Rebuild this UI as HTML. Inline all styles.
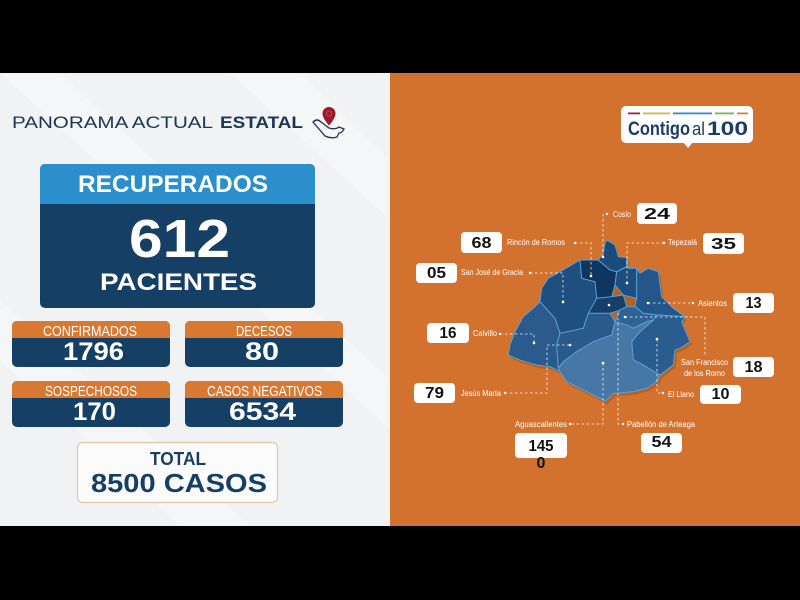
<!DOCTYPE html>
<html><head><meta charset="utf-8"><style>
html,body{margin:0;padding:0;background:#000;}
svg{display:block;}
text{font-family:"Liberation Sans",sans-serif;}
</style></head><body>
<svg width="800" height="600" viewBox="0 0 800 600" xmlns="http://www.w3.org/2000/svg">
<rect x="0" y="0" width="800" height="600" fill="#000"/>
<!-- left panel -->
<rect x="0" y="73" width="390" height="453" fill="#f1f2f4"/>
<polygon points="0,73 60,73 390,380 390,430" fill="#ffffff" opacity="0.3"/>
<polygon points="0,300 0,360 180,526 250,526" fill="#ffffff" opacity="0.3"/>
<polygon points="230,73 300,73 390,160 390,220" fill="#ffffff" opacity="0.3"/>
<!-- right panel -->
<rect x="390" y="73" width="410" height="453" fill="#d3722e"/>

<!-- title -->
<text x="12" y="128" font-size="17" fill="#1b3553" textLength="201" lengthAdjust="spacingAndGlyphs">PANORAMA ACTUAL</text>
<text x="220" y="128" font-size="17" font-weight="bold" fill="#1b3553" textLength="83" lengthAdjust="spacingAndGlyphs">ESTATAL</text>
<!-- icon -->
<path d="M313,122 q4,-4 8,0 l8,6 q6,2 10,-1 l5,2 q-2,4 -5,4 l-2,4 q-6,2 -12,-1 z" fill="none" stroke="#1b3553" stroke-width="1.3"/>
<path d="M329,107 a6.5,6.5 0 0 1 6.5,6.5 c0,5 -6.5,12 -6.5,12 c0,0 -6.5,-7 -6.5,-12 a6.5,6.5 0 0 1 6.5,-6.5z" fill="#9b1b2a"/>
<circle cx="329" cy="113.5" r="2.6" fill="none" stroke="#c9505c" stroke-width="0.8"/>

<!-- recuperados -->
<rect x="40" y="164" width="275" height="144" rx="5" fill="#163f66"/>
<path d="M40,204 V169 a5,5 0 0 1 5,-5 H310 a5,5 0 0 1 5,5 V204 Z" fill="#2a8fcb"/>
<text x="78" y="192" font-size="24" font-weight="bold" fill="#fff" textLength="190" lengthAdjust="spacingAndGlyphs">RECUPERADOS</text>
<text x="129" y="257" font-size="54" font-weight="bold" fill="#fff" textLength="101" lengthAdjust="spacingAndGlyphs">612</text>
<text x="100" y="290" font-size="24" font-weight="bold" fill="#fff" textLength="157" lengthAdjust="spacingAndGlyphs">PACIENTES</text>

<!-- small boxes -->
<g>
<rect x="12" y="321" width="158" height="46" rx="5" fill="#163f66"/>
<path d="M12,338 V326 a5,5 0 0 1 5,-5 H165 a5,5 0 0 1 5,5 V338 Z" fill="#d97830"/>
<text x="43" y="336" font-size="15" fill="#fff" textLength="94" lengthAdjust="spacingAndGlyphs">CONFIRMADOS</text>
<text x="63" y="360" font-size="25" font-weight="bold" fill="#fff" textLength="61" lengthAdjust="spacingAndGlyphs">1796</text>

<rect x="185" y="321" width="158" height="46" rx="5" fill="#163f66"/>
<path d="M185,338 V326 a5,5 0 0 1 5,-5 H338 a5,5 0 0 1 5,5 V338 Z" fill="#d97830"/>
<text x="236" y="336" font-size="15" fill="#fff" textLength="56" lengthAdjust="spacingAndGlyphs">DECESOS</text>
<text x="245" y="360" font-size="25" font-weight="bold" fill="#fff" textLength="34" lengthAdjust="spacingAndGlyphs">80</text>

<rect x="12" y="381" width="158" height="46" rx="5" fill="#163f66"/>
<path d="M12,398 V386 a5,5 0 0 1 5,-5 H165 a5,5 0 0 1 5,5 V398 Z" fill="#d97830"/>
<text x="45" y="396" font-size="15" fill="#fff" textLength="92" lengthAdjust="spacingAndGlyphs">SOSPECHOSOS</text>
<text x="73" y="420" font-size="25" font-weight="bold" fill="#fff" textLength="43" lengthAdjust="spacingAndGlyphs">170</text>

<rect x="185" y="381" width="158" height="46" rx="5" fill="#163f66"/>
<path d="M185,398 V386 a5,5 0 0 1 5,-5 H338 a5,5 0 0 1 5,5 V398 Z" fill="#d97830"/>
<text x="207" y="396" font-size="15" fill="#fff" textLength="115" lengthAdjust="spacingAndGlyphs">CASOS NEGATIVOS</text>
<text x="229" y="420" font-size="25" font-weight="bold" fill="#fff" textLength="67" lengthAdjust="spacingAndGlyphs">6534</text>
</g>

<!-- total -->
<rect x="77.5" y="442.5" width="200" height="60" rx="5" fill="#fbfbfb" stroke="#e6c6a6" stroke-width="1.2"/>
<text x="150" y="465" font-size="18" font-weight="bold" fill="#163f66" textLength="56" lengthAdjust="spacingAndGlyphs">TOTAL</text>
<text x="91" y="492" font-size="26" font-weight="bold" fill="#163f66" textLength="176" lengthAdjust="spacingAndGlyphs">8500 CASOS</text>

<!-- logo -->
<rect x="621" y="106" width="132" height="37" rx="5" fill="#fff"/>
<polygon points="683,142 693,142 688,148" fill="#fff"/>
<rect x="628" y="112.5" width="12" height="1.8" fill="#8e2a35"/>
<rect x="643" y="112.5" width="27" height="1.8" fill="#d8b544"/>
<rect x="673" y="112.5" width="39" height="1.8" fill="#2f8ec6"/>
<rect x="715" y="112.5" width="19" height="1.8" fill="#7ab648"/>
<rect x="737" y="112.5" width="11" height="1.8" fill="#d4824a"/>
<text x="628" y="135" font-size="19" font-weight="bold" fill="#1a3d63" textLength="62" lengthAdjust="spacingAndGlyphs">Contigo</text>
<text x="692" y="135" font-size="18" fill="#1a3d63" textLength="13" lengthAdjust="spacingAndGlyphs">al</text>
<text x="707" y="135" font-size="19" font-weight="bold" fill="#1a3d63" textLength="41" lengthAdjust="spacingAndGlyphs">100</text>

<!-- map shadow -->
<polygon transform="translate(2,3)" fill="#a4561f" opacity="0.6" points="606.7,240 615,245 618.3,256.7 626.7,257.7 628.3,268.3 636.7,268.3 640,273.3 648.3,268.3 658.3,271.7 661.7,296.7 673.3,308.3 685,316.7 681.7,321.7 685,330 690,341.7 680,348.3 675,350 673.3,365 660,375 656.7,381.7 646.7,388.3 633.3,391.7 613.3,393.3 605,401.7 600,398.3 586.7,391.7 566.7,381.7 560,371.7 550,366.7 536.7,365 520,360 508.3,355 510,345 515,331.7 523.3,316.7 533.3,308.3 540,301.7 541.7,288.3 548.3,278.3 560,271.7 580,260 598.3,260 603.3,253.3 605,243.3"/>
<!-- map regions -->
<g stroke="#58a6dc" stroke-width="0.9" stroke-linejoin="round">
<polygon fill="#2b5b8d" points="508.3,355 510,345 515,331.7 523.3,316.7 533.3,308.3 540,301.7 555,318.3 560,333.3 556.7,345 558.3,368.3 560,371.7 550,366.7 536.7,365 520,360"/>
<polygon fill="#1f4e80" points="540,301.7 541.7,288.3 548.3,278.3 560,271.7 580,260 581.7,278.3 595,281.7 596.7,298.3 588.3,313.3 583.3,328.3 560,333.3 555,318.3"/>
<polygon fill="#0f365f" points="580,260 598.3,260 610,270 616.7,271.7 615,285 611.7,296.7 596.7,298.3 595,281.7 581.7,278.3"/>
<polygon fill="#1c4a7a" points="606.7,240 615,245 618.3,256.7 626.7,257.7 626.7,266.7 616.7,271.7 610,270 598.3,260 603.3,253.3 605,243.3"/>
<polygon fill="#1e4e80" points="626.7,257.7 628.3,268.3 636.7,268.3 636.7,298.3 623.3,295 615,285 616.7,271.7 626.7,266.7"/>
<polygon fill="#25568a" points="636.7,268.3 640,273.3 648.3,268.3 658.3,271.7 661.7,296.7 673.3,308.3 685,316.7 656.7,315 643.3,313.3 635,306.7 636.7,298.3"/>
<polygon fill="#173f6c" points="596.7,298.3 611.7,296.7 623.3,295 626.7,306.7 620,310 610,313.3 588.3,313.3"/>
<polygon fill="#2a598b" points="560,333.3 583.3,328.3 588.3,313.3 610,313.3 615,321.7 611.7,335 593.3,341.7 576.7,351.7 563.3,361.7 558.3,368.3 556.7,345"/>
<polygon fill="#2f6396" points="615,321.7 620,310 626.7,306.7 635,306.7 643.3,313.3 656.7,315 653.3,320 646.7,321.7 633.3,328.3 626.7,325"/>
<polygon fill="#2b5c8f" points="656.7,315 685,316.7 681.7,321.7 685,330 690,341.7 680,348.3 675,350 673.3,365 660,375 640,363.3 633.3,360 631.7,341.7 640,331.7 653.3,320"/>
<polygon fill="#4677a5" points="563.3,361.7 576.7,351.7 593.3,341.7 611.7,335 615,321.7 626.7,325 633.3,328.3 646.7,321.7 653.3,320 640,331.7 631.7,341.7 633.3,360 640,363.3 660,375 656.7,381.7 646.7,388.3 633.3,391.7 613.3,393.3 605,401.7 600,398.3 586.7,391.7 566.7,381.7 560,371.7 558.3,368.3"/>
</g>

<!-- dashed leader lines -->
<g fill="none" stroke="#fff" stroke-width="0.8" stroke-dasharray="2.5,2.5" opacity="0.9">
<path d="M603,214 V257"/>
<path d="M575,243 H591 V276"/>
<path d="M664,243 H627 V283"/>
<path d="M530,273 H563 V302"/>
<path d="M648,303 H693"/>
<path d="M500,334 H534 V343"/>
<path d="M625,317 H705 V356"/>
<path d="M505,393 H547 V345 H570"/>
<path d="M657,339 V393 H663"/>
<path d="M603,363 V424 H570"/>
<path d="M618,313 V424 H623"/>
</g>
<g fill="#fff">
<circle cx="607" cy="214" r="1.2"/><circle cx="603" cy="257" r="1.3"/>
<circle cx="575" cy="243" r="1.2"/><circle cx="591" cy="276" r="1.3"/>
<circle cx="664" cy="243" r="1.2"/><circle cx="627" cy="283" r="1.3"/>
<circle cx="530" cy="273" r="1.2"/><circle cx="563" cy="302" r="1.3"/>
<circle cx="648" cy="303" r="1.3"/><circle cx="693" cy="303" r="1.2"/>
<circle cx="500" cy="334" r="1.2"/><circle cx="534" cy="343" r="1.3"/>
<circle cx="625" cy="317" r="1.3"/><circle cx="609" cy="305" r="1.3"/>
<circle cx="505" cy="393" r="1.2"/><circle cx="570" cy="345" r="1.3"/>
<circle cx="657" cy="339" r="1.3"/><circle cx="663" cy="393" r="1.2"/>
<circle cx="603" cy="363" r="1.3"/><circle cx="570" cy="424" r="1.2"/>
<circle cx="623" cy="424" r="1.2"/>
</g>

<!-- labels -->
<g fill="#fff" font-size="8">
<text x="613" y="217" textLength="18" lengthAdjust="spacingAndGlyphs">Cosío</text>
<text x="507" y="245" textLength="58" lengthAdjust="spacingAndGlyphs">Rincón de Romos</text>
<text x="668" y="245" textLength="29" lengthAdjust="spacingAndGlyphs">Tepezalá</text>
<text x="461" y="275" textLength="62" lengthAdjust="spacingAndGlyphs">San José de Gracia</text>
<text x="698" y="306" textLength="29" lengthAdjust="spacingAndGlyphs">Asientos</text>
<text x="473" y="336" textLength="24" lengthAdjust="spacingAndGlyphs">Calvillo</text>
<text x="681" y="365" textLength="47" lengthAdjust="spacingAndGlyphs">San Francisco</text>
<text x="684" y="376" textLength="41" lengthAdjust="spacingAndGlyphs">de los Romo</text>
<text x="461" y="396" textLength="40" lengthAdjust="spacingAndGlyphs">Jesús María</text>
<text x="668" y="397" textLength="26" lengthAdjust="spacingAndGlyphs">El Llano</text>
<text x="515" y="427" textLength="52" lengthAdjust="spacingAndGlyphs">Aguascalientes</text>
<text x="627" y="427" textLength="68" lengthAdjust="spacingAndGlyphs">Pabellón de Arteaga</text>
</g>

<!-- number boxes -->
<g fill="#fff">
<rect x="637" y="203" width="40" height="21" rx="4"/>
<rect x="461" y="232" width="41" height="21" rx="4"/>
<rect x="703" y="233" width="41" height="21" rx="4"/>
<rect x="416" y="263" width="41" height="20" rx="4"/>
<rect x="733" y="293" width="41" height="20" rx="4"/>
<rect x="427" y="323" width="42" height="20" rx="4"/>
<rect x="733" y="357" width="41" height="20" rx="4"/>
<rect x="414" y="383" width="41" height="20" rx="4"/>
<rect x="700" y="385" width="41" height="19" rx="4"/>
<rect x="515" y="433" width="52" height="25" rx="4"/>
<rect x="641" y="433" width="41" height="20" rx="4"/>
</g>
<g fill="#111" font-size="16" font-weight="bold" text-anchor="middle">
<text x="657" y="219" textLength="26" lengthAdjust="spacingAndGlyphs">24</text>
<text x="481.5" y="248" textLength="20" lengthAdjust="spacingAndGlyphs">68</text>
<text x="723.5" y="249" textLength="25" lengthAdjust="spacingAndGlyphs">35</text>
<text x="436.5" y="278" textLength="19" lengthAdjust="spacingAndGlyphs">05</text>
<text x="753.5" y="308" textLength="16" lengthAdjust="spacingAndGlyphs">13</text>
<text x="448" y="338" textLength="17" lengthAdjust="spacingAndGlyphs">16</text>
<text x="753.5" y="372" textLength="18" lengthAdjust="spacingAndGlyphs">18</text>
<text x="434.5" y="398" textLength="19" lengthAdjust="spacingAndGlyphs">79</text>
<text x="720.5" y="399" textLength="18" lengthAdjust="spacingAndGlyphs">10</text>
<text x="541" y="451" textLength="25" lengthAdjust="spacingAndGlyphs">145</text>
<text x="541" y="468">0</text>
<text x="661.5" y="447" textLength="20" lengthAdjust="spacingAndGlyphs">54</text>
</g>
</svg>
</body></html>
